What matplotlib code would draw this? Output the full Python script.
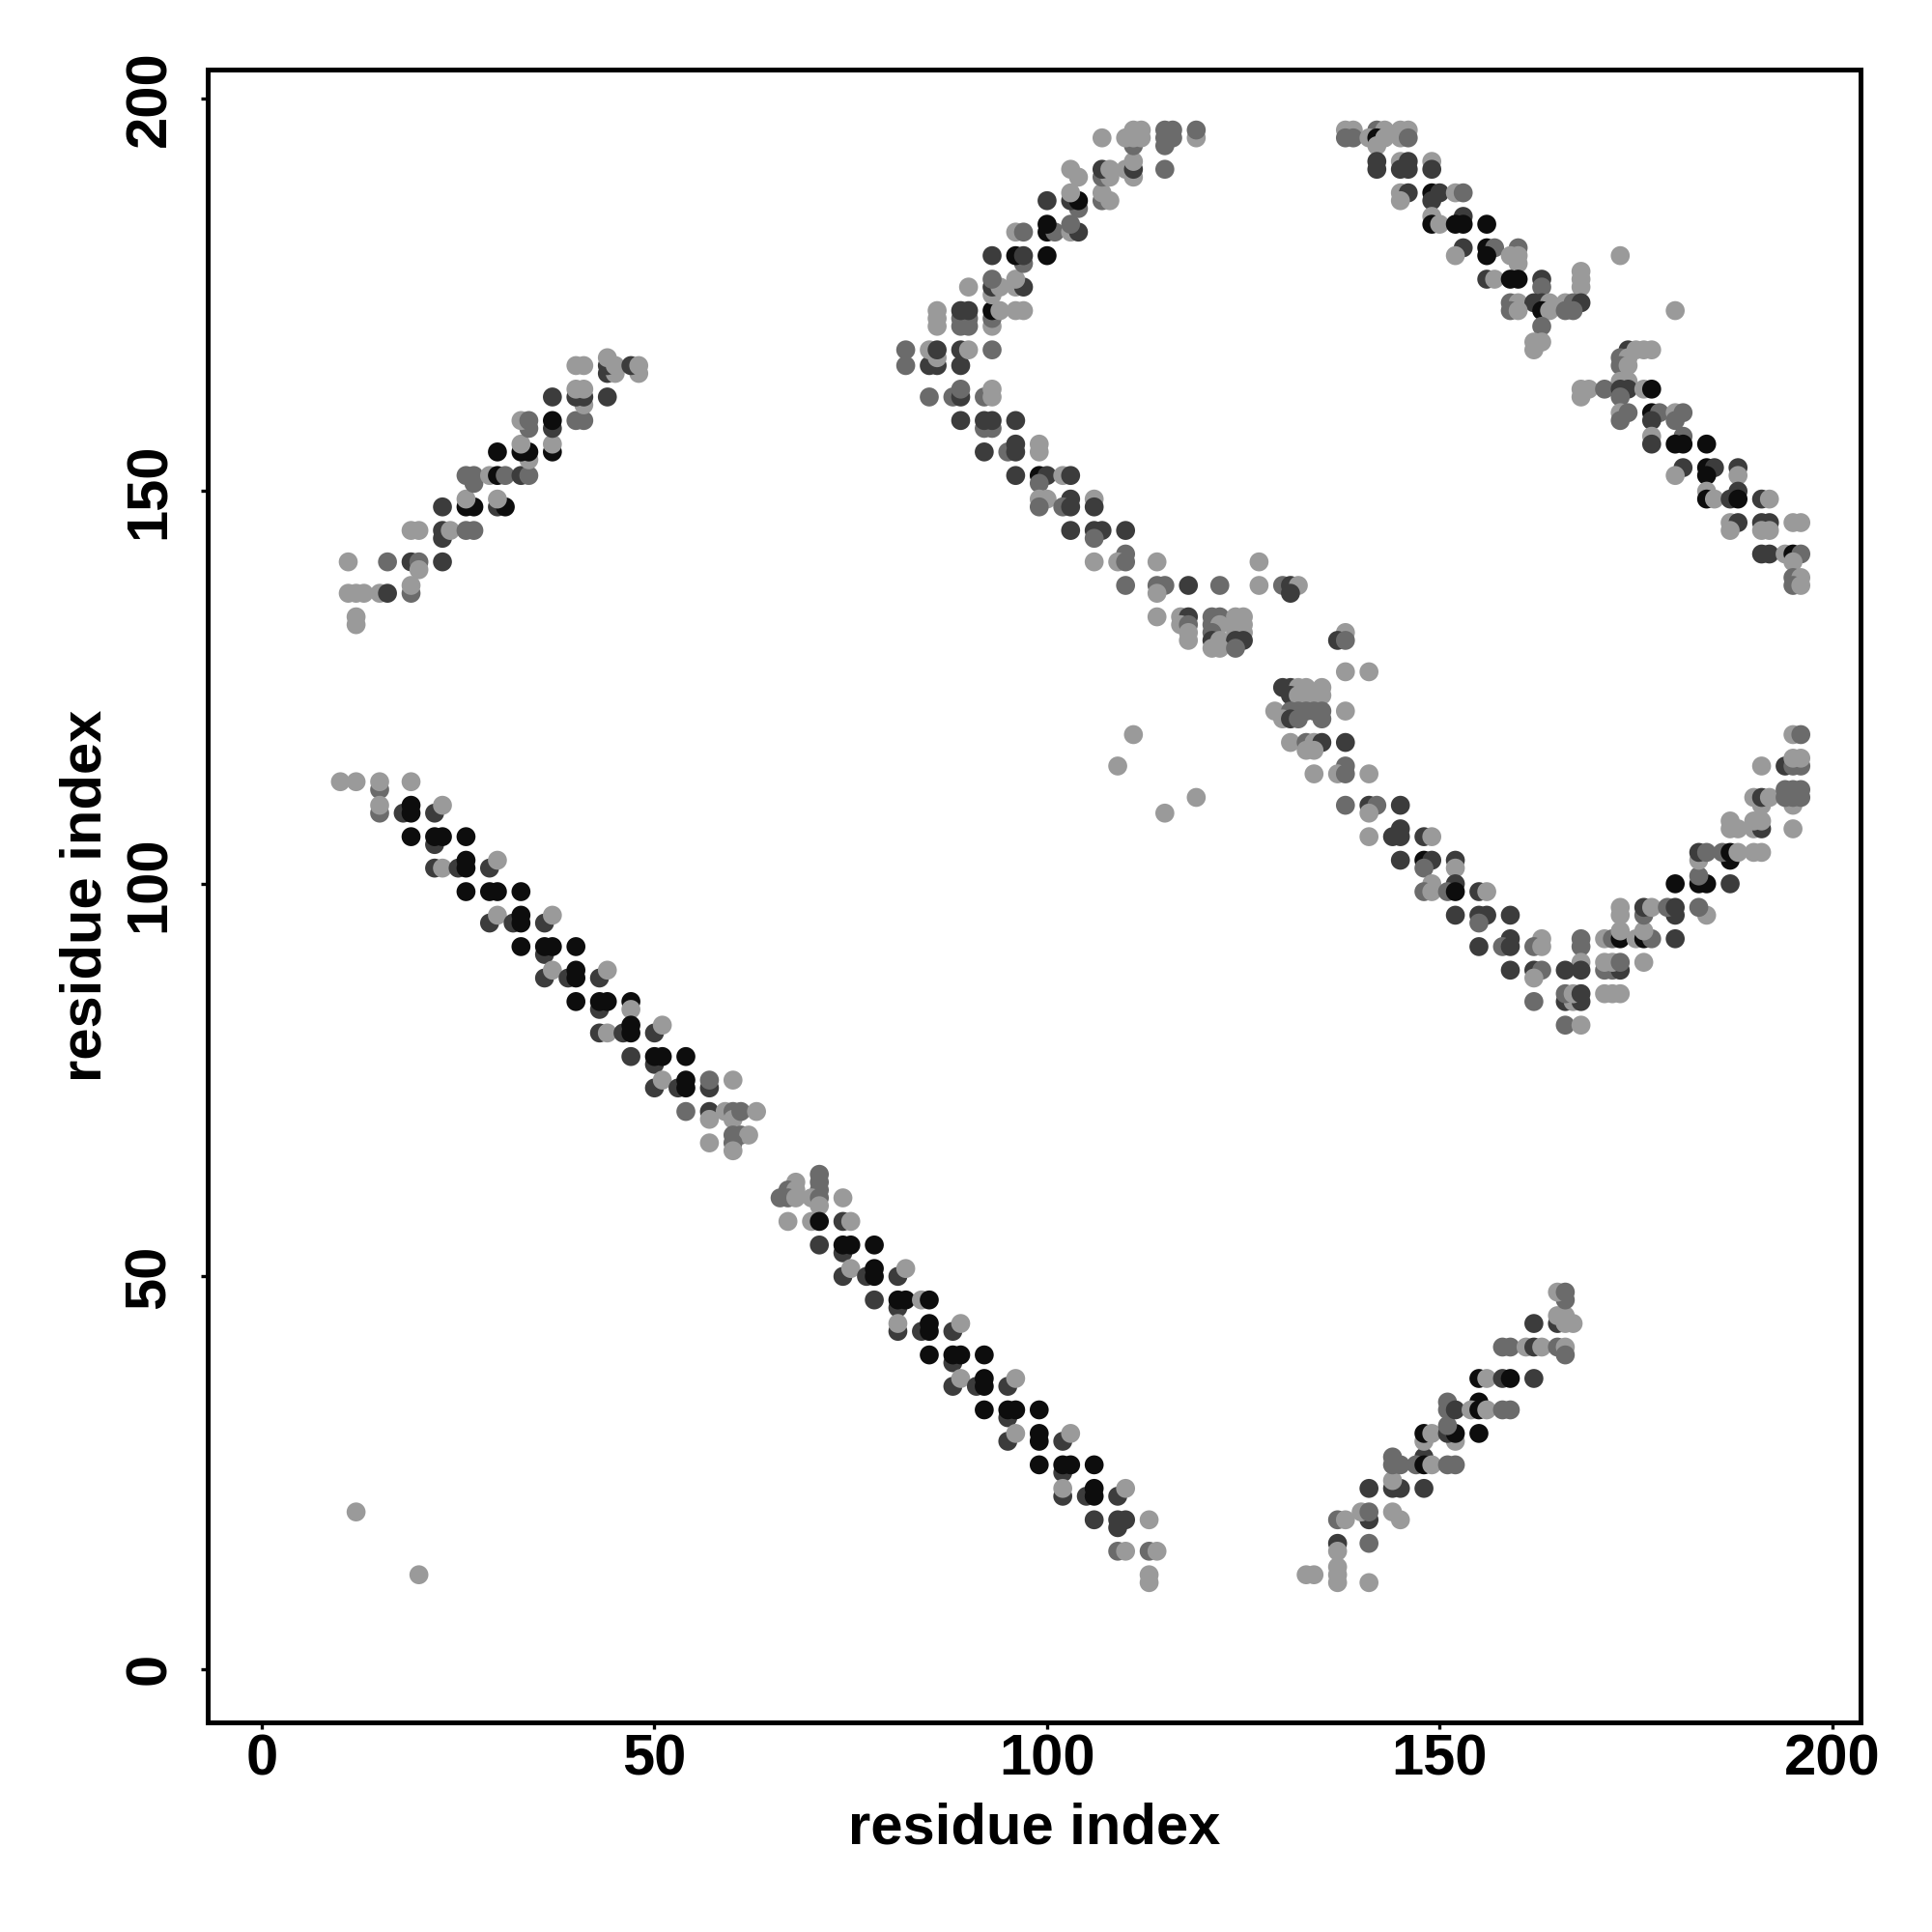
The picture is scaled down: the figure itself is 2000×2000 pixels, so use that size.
import matplotlib
matplotlib.use("Agg")
import matplotlib.pyplot as plt

# contact points: (residue i, residue j, strength 1..4)
# strength 4 = strongest contact (black), 1 = weakest (light grey)

band_lower_left = [
    (10, 113, 1), (12, 113, 1), (15, 112, 2), (15, 113, 1), (19, 113, 1),
    (15, 109, 2), (18, 109, 3), (19, 109, 4), (19, 110, 4), (22, 109, 3), (15, 110, 1), (23, 110, 1),
    (22, 105, 3), (19, 106, 4), (22, 106, 4), (23, 106, 4), (26, 106, 4),
    (22, 102, 3), (23, 102, 1), (25, 102, 3), (26, 102, 4), (26, 103, 4), (29, 102, 3), (30, 103, 1),
    (26, 99, 4), (29, 99, 4), (30, 99, 4), (33, 99, 4),
    (29, 95, 3), (30, 96, 1), (32, 95, 3), (33, 95, 4), (33, 96, 4), (36, 95, 3), (37, 96, 1),
    (36, 91, 3), (33, 92, 4), (36, 92, 4), (37, 92, 4), (40, 92, 4),
    (36, 88, 3), (37, 89, 1), (39, 88, 3), (40, 88, 4), (40, 89, 4), (43, 88, 3), (44, 89, 1),
    (43, 84, 3), (40, 85, 4), (43, 85, 4), (44, 85, 4), (47, 85, 4), (47, 84, 1),
    (43, 81, 3), (44, 81, 1), (46, 81, 3), (47, 81, 4), (47, 82, 4), (50, 81, 3), (51, 82, 1),
    (50, 77, 3), (47, 78, 3), (50, 78, 4), (51, 78, 4), (54, 78, 4),
    (50, 74, 3), (51, 75, 1), (53, 74, 3), (54, 74, 4), (54, 75, 4), (57, 74, 3), (57, 75, 2), (60, 75, 1),
    (54, 71, 2), (57, 71, 3), (57, 70, 1), (59, 71, 1), (60, 71, 2), (60, 70, 1), (61, 71, 2), (63, 71, 1),
    (60, 68, 2), (61, 68, 2), (62, 68, 1), (57, 67, 1), (60, 67, 2), (60, 66, 1),
]

band_middle_desc = [
    (71, 63, 2), (68, 62, 1), (71, 62, 2), (67, 61, 2), (68, 61, 1), (71, 61, 2),
    (66, 60, 2), (67, 60, 2), (68, 60, 1), (70, 60, 1), (71, 60, 2), (74, 60, 1), (71, 59, 1),
    (67, 57, 1), (70, 57, 1), (71, 57, 4), (74, 57, 3), (75, 57, 1),
    (74, 53, 3), (71, 54, 3), (74, 54, 4), (75, 54, 4), (78, 54, 4),
    (74, 50, 3), (75, 51, 1), (77, 50, 3), (78, 50, 4), (78, 51, 4), (81, 50, 3), (82, 51, 1),
    (81, 46, 3), (78, 47, 3), (81, 47, 4), (82, 47, 4), (84, 47, 1), (85, 47, 4),
    (81, 43, 3), (81, 44, 1), (84, 43, 3), (85, 43, 4), (85, 44, 4), (88, 43, 3), (89, 44, 1),
    (88, 39, 3), (85, 40, 4), (88, 40, 4), (89, 40, 4), (92, 40, 4),
    (88, 36, 3), (89, 37, 1), (91, 36, 3), (92, 36, 4), (92, 37, 4), (95, 36, 3), (96, 37, 1),
    (95, 32, 3), (92, 33, 4), (95, 33, 4), (96, 33, 4), (99, 33, 4),
    (95, 29, 3), (96, 30, 1), (99, 29, 4), (99, 30, 4), (102, 29, 3), (103, 30, 1),
    (102, 25, 3), (99, 26, 4), (102, 26, 4), (103, 26, 4), (106, 26, 4),
    (102, 22, 3), (102, 23, 1), (105, 22, 3), (106, 22, 4), (106, 23, 4), (109, 22, 3), (110, 23, 1),
    (109, 18, 3), (106, 19, 3), (109, 19, 3), (110, 19, 3), (113, 19, 1),
    (109, 15, 2), (110, 15, 1), (113, 15, 2), (114, 15, 1), (113, 12, 1), (113, 11, 1),
]

band_lower_right = [
    (133, 12, 1), (134, 12, 1), (137, 12, 1), (137, 13, 1), (137, 11, 1), (141, 11, 1),
    (137, 16, 3), (141, 16, 2), (137, 15, 1),
    (137, 19, 2), (138, 19, 1), (141, 19, 3), (145, 19, 1), (140, 20, 1), (141, 20, 2), (144, 20, 1),
    (141, 23, 3), (144, 23, 3), (145, 23, 3), (148, 23, 3), (144, 24, 1),
    (144, 27, 2), (148, 27, 3), (144, 26, 2), (145, 26, 2), (147, 26, 2), (148, 26, 4), (149, 26, 1),
    (151, 26, 2), (152, 26, 2),
    (148, 29, 1), (152, 29, 1), (148, 30, 4), (149, 30, 1), (151, 30, 3), (152, 30, 4), (155, 30, 4),
    (151, 31, 2),
    (151, 34, 2), (155, 34, 4), (151, 33, 2), (152, 33, 3), (154, 33, 1), (155, 33, 4), (156, 33, 1),
    (158, 33, 2), (159, 33, 2),
    (155, 37, 4), (156, 37, 1), (158, 37, 3), (159, 37, 4), (162, 37, 3),
    (158, 41, 2), (159, 41, 2), (161, 41, 1), (162, 41, 3), (163, 41, 1), (165, 41, 2), (166, 41, 1),
    (166, 40, 2),
    (162, 44, 3), (165, 44, 3), (166, 44, 1), (167, 44, 1), (165, 45, 1), (166, 45, 1),
    (166, 47, 2), (165, 48, 1), (166, 48, 2),
]

band_upper_left = [
    (12, 134, 1), (12, 133, 1),
    (11, 137, 1), (12, 137, 1), (13, 137, 1), (15, 137, 1), (16, 137, 3), (19, 137, 2), (19, 138, 1),
    (11, 141, 1), (16, 141, 2), (19, 141, 3), (20, 141, 2), (23, 141, 3), (20, 140, 1),
    (23, 144, 3), (19, 145, 1), (20, 145, 1), (23, 145, 3), (24, 145, 1), (26, 145, 2), (27, 145, 2),
    (23, 148, 3), (26, 148, 4), (27, 148, 4), (30, 148, 3), (31, 148, 4), (26, 149, 1), (30, 149, 1),
    (27, 151, 2), (26, 152, 2), (27, 152, 2), (29, 152, 1), (30, 152, 4), (31, 152, 2), (33, 152, 3),
    (34, 152, 2),
    (34, 154, 1), (30, 155, 4), (33, 155, 4), (34, 155, 4), (37, 155, 4), (33, 156, 1), (37, 156, 1),
    (34, 158, 2), (37, 158, 3), (33, 159, 1), (34, 159, 2), (37, 159, 4), (40, 159, 2), (41, 159, 2),
    (41, 161, 1), (37, 162, 3), (40, 162, 3), (41, 162, 3), (44, 162, 3), (40, 163, 1), (41, 163, 1),
    (44, 165, 3), (45, 165, 1), (48, 165, 1),
    (40, 166, 1), (41, 166, 1), (44, 166, 3), (45, 166, 1), (47, 166, 3), (48, 166, 1), (44, 167, 1),
]

band_upper_middle = [
    (92, 155, 3), (95, 155, 2), (96, 155, 3), (99, 155, 1), (96, 156, 3), (99, 156, 1),
    (92, 158, 2), (93, 158, 2), (89, 159, 3), (92, 159, 3), (93, 159, 3), (96, 159, 3),
    (85, 162, 2), (88, 162, 2), (89, 162, 3), (92, 162, 2), (93, 162, 1), (89, 163, 2), (93, 163, 1),
    (82, 166, 2), (85, 166, 3), (86, 166, 3), (89, 166, 3), (86, 167, 1),
    (82, 168, 2), (85, 168, 1), (86, 168, 3), (89, 168, 3), (90, 168, 1), (93, 168, 2),
    (86, 171, 1), (89, 171, 2), (90, 171, 2), (93, 171, 1),
    (86, 172, 1), (89, 172, 2), (90, 172, 2), (93, 172, 2),
    (86, 173, 1), (89, 173, 3), (90, 173, 3), (93, 173, 4), (94, 173, 1), (96, 173, 1), (97, 173, 1),
    (93, 175, 1), (90, 176, 1), (93, 176, 3), (94, 176, 1), (96, 176, 1), (97, 176, 3),
    (93, 177, 2), (96, 177, 1), (97, 179, 2),
    (93, 180, 3), (96, 180, 4), (97, 180, 3), (100, 180, 4),
    (96, 183, 1), (97, 183, 2), (100, 183, 4), (101, 183, 2), (103, 183, 1), (104, 183, 3),
    (100, 184, 4), (103, 184, 2), (104, 186, 2),
    (100, 187, 3), (103, 187, 3), (104, 187, 4), (107, 187, 2), (108, 187, 1), (103, 188, 1), (107, 188, 1),
    (104, 190, 1), (107, 190, 2), (108, 190, 1), (111, 190, 1),
    (103, 191, 1), (107, 191, 3), (108, 191, 1), (110, 191, 1), (111, 191, 3), (115, 191, 2),
    (111, 192, 1), (111, 194, 2), (115, 194, 2),
    (107, 195, 1), (110, 195, 1), (111, 195, 1), (112, 195, 1), (115, 195, 2), (116, 195, 2), (119, 195, 1),
    (111, 196, 1), (112, 196, 1), (115, 196, 2), (116, 196, 2), (119, 196, 2),
]

band_middle_turn = [
    (96, 152, 3), (99, 152, 4), (100, 152, 3), (102, 152, 1), (103, 152, 3), (99, 151, 2),
    (99, 149, 1), (100, 149, 1), (103, 149, 3), (106, 149, 1),
    (99, 148, 2), (102, 148, 2), (103, 148, 3), (106, 148, 3),
    (103, 145, 3), (106, 145, 3), (107, 145, 3), (110, 145, 3), (106, 144, 2),
    (110, 142, 2), (106, 141, 1), (109, 141, 1), (110, 141, 2), (114, 141, 1), (127, 141, 1),
    (110, 138, 2), (114, 138, 2), (115, 138, 2), (118, 138, 3), (122, 138, 2), (127, 138, 1),
    (130, 138, 2), (131, 138, 3), (132, 138, 1), (114, 137, 1), (131, 137, 3),
    (114, 134, 1), (117, 134, 1), (118, 134, 3), (121, 134, 2), (122, 134, 2), (124, 134, 1), (125, 134, 1),
    (117, 133, 1), (118, 133, 2), (121, 133, 2), (122, 133, 1), (124, 133, 1), (125, 133, 1),
    (118, 132, 1), (121, 132, 2), (124, 132, 1), (125, 132, 1),
    (118, 131, 1), (121, 131, 3), (122, 131, 1), (124, 131, 3), (125, 131, 3),
    (121, 130, 1), (122, 130, 1), (124, 130, 2),
]

band_right_loop = [
    (138, 132, 1), (137, 131, 3), (138, 131, 2), (138, 127, 1), (141, 127, 1),
    (130, 125, 3), (131, 125, 3), (132, 125, 1), (133, 125, 1), (135, 125, 1),
    (131, 124, 3), (132, 124, 1), (133, 124, 1), (134, 124, 1), (135, 124, 1),
    (129, 122, 1), (131, 122, 2), (132, 122, 2), (133, 122, 2), (134, 122, 2), (135, 122, 2), (138, 122, 1),
    (130, 121, 1), (131, 121, 3), (132, 121, 2), (135, 121, 2),
    (131, 118, 1), (133, 118, 2), (134, 118, 1), (135, 118, 3), (138, 118, 3), (133, 117, 1), (134, 117, 1),
    (138, 115, 2), (134, 114, 1), (137, 114, 1), (138, 114, 2), (141, 114, 1),
    (138, 110, 2), (141, 110, 3), (142, 110, 2), (145, 110, 3), (141, 109, 1),
    (145, 107, 3), (141, 106, 1), (144, 106, 3), (145, 106, 3), (148, 106, 3), (149, 106, 1),
    (145, 103, 3), (148, 103, 4), (149, 103, 3), (152, 103, 3), (148, 102, 2), (152, 102, 1),
    (149, 100, 1), (152, 100, 3),
    (148, 99, 2), (149, 99, 1), (151, 99, 2), (152, 99, 4), (155, 99, 3), (156, 99, 1),
    (152, 96, 3), (155, 96, 3), (156, 96, 3), (159, 96, 3), (155, 95, 2),
    (159, 93, 3), (163, 93, 1),
    (155, 92, 3), (158, 92, 2), (159, 92, 3), (162, 92, 2), (163, 92, 1), (168, 92, 2),
    (168, 90, 1), (159, 89, 3), (162, 89, 3), (163, 89, 2), (166, 89, 3), (168, 89, 3), (162, 88, 1),
    (162, 85, 2), (166, 85, 3), (167, 85, 1), (168, 85, 3), (166, 82, 2), (168, 82, 1),
]

band_right_asc = [
    (166, 86, 2), (167, 86, 1), (168, 86, 3), (171, 86, 1), (172, 86, 1), (173, 86, 1),
    (171, 89, 2), (172, 89, 2), (173, 89, 3),
    (171, 90, 1), (172, 90, 1), (173, 90, 2), (176, 90, 1),
    (168, 93, 2), (171, 93, 1), (172, 93, 2), (173, 93, 4), (175, 93, 1), (176, 93, 4), (177, 93, 2),
    (180, 93, 3), (173, 94, 1), (176, 94, 1),
    (173, 96, 1), (176, 96, 2), (180, 96, 3), (184, 96, 1),
    (173, 97, 1), (176, 97, 3), (177, 97, 1), (179, 97, 2), (180, 97, 3), (183, 97, 2),
    (180, 100, 4), (183, 100, 4), (184, 100, 4), (187, 100, 3), (183, 101, 2),
    (183, 103, 1), (187, 103, 4),
    (183, 104, 3), (184, 104, 2), (186, 104, 2), (187, 104, 4), (188, 104, 1), (190, 104, 1), (191, 104, 1),
    (187, 107, 1), (188, 107, 1), (190, 107, 1), (191, 107, 3), (195, 107, 1),
    (187, 108, 1), (190, 108, 1), (191, 108, 1), (191, 110, 1), (195, 110, 1),
    (190, 111, 1), (191, 111, 3), (192, 111, 1), (194, 111, 2), (195, 111, 2), (196, 111, 2),
    (194, 112, 2), (195, 112, 2), (196, 112, 2),
    (191, 115, 1), (194, 115, 3), (195, 115, 2), (196, 115, 2), (195, 116, 1), (196, 116, 1),
    (195, 119, 1), (196, 119, 2),
]

band_upper_right = [
    (138, 196, 1), (139, 196, 1), (142, 196, 2), (143, 196, 1), (145, 196, 1), (146, 196, 1),
    (138, 195, 2), (139, 195, 2), (141, 195, 1), (142, 195, 4), (143, 195, 1), (145, 195, 1), (146, 195, 2),
    (142, 194, 1),
    (142, 192, 3), (145, 192, 1), (146, 192, 3), (149, 192, 1),
    (142, 191, 3), (145, 191, 3), (146, 191, 3), (149, 191, 3),
    (145, 188, 1), (146, 188, 3), (149, 188, 4), (150, 188, 3), (152, 188, 1), (153, 188, 2),
    (145, 187, 1), (149, 187, 3), (149, 185, 1), (153, 185, 3),
    (149, 184, 4), (150, 184, 1), (152, 184, 4), (153, 184, 4), (156, 184, 4),
    (153, 181, 3), (156, 181, 4), (157, 181, 2), (160, 181, 2),
    (152, 180, 1), (156, 180, 4), (159, 180, 1), (160, 180, 1), (160, 179, 1),
    (168, 178, 1), (156, 177, 3), (157, 177, 1), (159, 177, 4), (160, 177, 4), (163, 177, 3), (168, 177, 1),
    (163, 176, 2), (168, 176, 1),
    (159, 174, 2), (160, 174, 1), (162, 174, 3), (163, 174, 3), (164, 174, 1), (166, 174, 1),
    (167, 174, 2), (168, 174, 3),
    (159, 173, 2), (160, 173, 1), (163, 173, 4), (164, 173, 1), (166, 173, 2), (167, 173, 2),
    (163, 171, 2), (162, 169, 1), (163, 169, 1), (162, 168, 1),
]

band_right_desc = [
    (174, 168, 3), (175, 168, 1), (176, 168, 1), (177, 168, 1),
    (173, 167, 2), (174, 167, 1), (173, 166, 2), (174, 166, 1),
    (173, 164, 1), (174, 164, 1),
    (168, 163, 1), (169, 163, 1), (171, 163, 2), (173, 163, 3), (174, 163, 3), (176, 163, 1), (177, 163, 4),
    (168, 162, 1), (173, 162, 2),
    (173, 160, 1), (174, 160, 2), (177, 160, 4), (178, 160, 2), (180, 160, 1), (181, 160, 2),
    (173, 159, 2), (177, 159, 3), (180, 159, 2), (177, 157, 1), (181, 157, 2),
    (177, 156, 3), (180, 156, 4), (181, 156, 4), (184, 156, 4),
    (181, 153, 3), (184, 153, 4), (185, 153, 3), (188, 153, 3), (180, 152, 1), (184, 152, 4), (188, 152, 1),
    (184, 150, 1), (188, 150, 3),
    (184, 149, 4), (185, 149, 1), (187, 149, 3), (188, 149, 4), (191, 149, 3), (192, 149, 1),
    (187, 146, 1), (188, 146, 3), (191, 146, 3), (192, 146, 3), (195, 146, 1), (196, 146, 1),
    (187, 145, 1), (191, 145, 1), (192, 145, 1),
    (191, 142, 3), (192, 142, 3), (194, 142, 1), (195, 142, 4), (196, 142, 2), (195, 141, 1),
    (195, 139, 2), (196, 139, 1), (195, 138, 2), (196, 138, 1),
]

isolated = [
    (12, 20, 1), (20, 12, 1), (111, 119, 1), (109, 115, 1), (115, 109, 1), (119, 111, 1),
    (173, 180, 1), (180, 173, 1),
]

bands = [band_lower_left, band_middle_desc, band_lower_right, band_upper_left,
         band_upper_middle, band_middle_turn, band_right_loop, band_right_asc,
         band_upper_right, band_right_desc, isolated]

grey_for = {1: "#9a9a9a", 2: "#6b6b6b", 3: "#3c3c3c", 4: "#0d0d0d"}

plt.rcParams["font.family"] = ["Liberation Sans", "DejaVu Sans"]
plt.rcParams["font.weight"] = "bold"

fig = plt.figure(figsize=(10, 10), dpi=200)
ax = fig.add_axes([0.1075, 0.1085, 0.8555, 0.8555])

for band in bands:
    xs = [p[0] for p in band]
    ys = [p[1] for p in band]
    cs = [grey_for[p[2]] for p in band]
    ax.scatter(xs, ys, s=50, c=cs, linewidths=0, zorder=2)

ax.set_xlim(-6.9, 203.6)
ax.set_ylim(-6.8, 203.7)
ax.set_xticks([0, 50, 100, 150, 200])
ax.set_yticks([0, 50, 100, 150, 200])

for sp in ax.spines.values():
    sp.set_linewidth(1.8)

ax.tick_params(axis="both", direction="out", length=2.5, width=1.2, labelsize=21.5)
ax.tick_params(axis="x", pad=1.5)
ax.tick_params(axis="y", pad=9)
for lab in ax.get_yticklabels():
    lab.set_rotation(90)
    lab.set_va("center")
for lab in ax.get_xticklabels() + ax.get_yticklabels():
    lab.set_fontweight("bold")

ax.set_xlabel("residue index", fontsize=21.5, fontweight="bold", labelpad=6)
ax.set_ylabel("residue index", fontsize=21.5, fontweight="bold", labelpad=4)

fig.savefig("out.png", dpi=200, facecolor="white")
